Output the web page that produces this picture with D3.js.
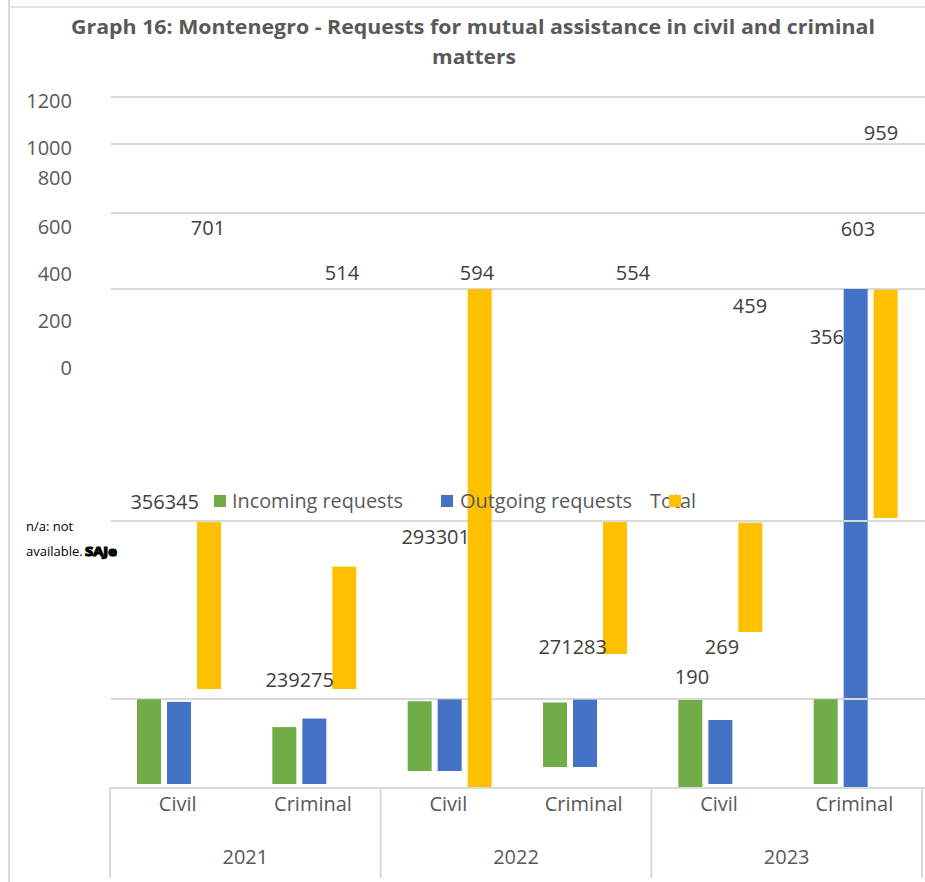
<!DOCTYPE html>
<html>
<head>
<meta charset="utf-8">
<script src="https://cdn.jsdelivr.net/npm/d3@7"></script>
<style>
  html, body { margin: 0; padding: 0; background: #fff; }
  svg { display: block; font-family: "Open Sans", "Noto Sans", sans-serif; }
</style>
</head>
<body>
<svg id="chart" width="925" height="882"></svg>
<script>
// ---------------- data ----------------
const categories = ["Civil", "Criminal", "Civil", "Criminal", "Civil", "Criminal"];
const years = ["2021", "2022", "2023"];
const seriesNames = ["Incoming requests", "Outgoing requests", "Total"];
const incoming = [356, 239, 293, 271, 190, 356];
const outgoing = [345, 275, 301, 283, 269, 603];
const total    = [701, 514, 594, 554, 459, 959];
const yTickLabels = ["1200", "1000", "800", "600", "400", "200", "0"];
const titleLines = ["Graph 16: Montenegro - Requests for mutual assistance in civil and criminal", "matters"];
const noteLines = ["n/a: not", "available.", "SAJe"];

// ---------------- styles / layout (reproducing the rendered, glitched picture) ----------------
const colors = ["#70AD47", "#4472C4", "#FFC000"];
const gridColor = "#d9d9d9";
const layout = {
  tickY: [101, 148, 178, 227, 274, 321, 368],
  gridY: [97, 144, 213, 289, 521, 699],
  // pixel baseline of each bar, per series, per category (the picture is tiled/shifted)
  baseline: [
    [784, 784, 771, 767, 787, 784],
    [784, 784, 771, 767, 784, 787],
    [689, 689, 787, 654, 632, 518]
  ],
  // bars whose tops were stretched to a fixed line in the picture
  stretchTop: { "0-4": 700, "1-5": 289, "2-2": 289 }
};

const series = [incoming, outgoing, total];

const svg = d3.select("#chart");
const W = 925, H = 882;

// scales
const x0 = d3.scaleBand().domain(d3.range(categories.length)).range([110, 922]).padding(0);
const x1 = d3.scaleBand().domain([0, 1, 2]).range([27, 111]).paddingInner(0.2).paddingOuter(0);
const h = d3.scaleLinear().domain([0, 1000]).range([0, 238]);

// chart area border
svg.append("line").attr("x1", 9).attr("x2", 9).attr("y1", 0).attr("y2", H)
  .attr("stroke", gridColor).attr("stroke-width", 2);
svg.append("line").attr("x1", 9).attr("x2", W).attr("y1", 7).attr("y2", 7)
  .attr("stroke", gridColor).attr("stroke-width", 1.5);

// title
svg.append("text").attr("x", 473).attr("y", 34).attr("text-anchor", "middle")
  .attr("font-size", 20).attr("font-weight", "bold").attr("fill", "#595959")
  .attr("textLength", 804).attr("lengthAdjust", "spacingAndGlyphs").text(titleLines[0]);
svg.append("text").attr("x", 474).attr("y", 64).attr("text-anchor", "middle")
  .attr("font-size", 20).attr("font-weight", "bold").attr("fill", "#595959")
  .attr("textLength", 84).attr("lengthAdjust", "spacingAndGlyphs").text(titleLines[1]);

// gridlines
svg.append("g").selectAll("line").data(layout.gridY).join("line")
  .attr("x1", 111).attr("x2", W).attr("y1", d => d).attr("y2", d => d)
  .attr("stroke", gridColor).attr("stroke-width", 2);

// y tick labels
svg.append("g").selectAll("text").data(yTickLabels).join("text")
  .attr("x", 72).attr("y", (d, i) => layout.tickY[i]).attr("dy", "0.35em")
  .attr("text-anchor", "end").attr("font-size", 20).attr("fill", "#595959")
  .text(d => d);

// bars
const barData = [];
series.forEach((vals, s) => vals.forEach((v, c) => {
  const base = layout.baseline[s][c];
  const key = s + "-" + c;
  const top = layout.stretchTop[key] !== undefined ? layout.stretchTop[key] : base - h(v);
  barData.push({ s, c, v, top, base });
}));
svg.append("g").selectAll("rect").data(barData).join("rect")
  .attr("x", d => x0(d.c) + x1(d.s))
  .attr("width", x1.bandwidth())
  .attr("y", d => d.top)
  .attr("height", d => d.base - d.top)
  .attr("fill", d => colors[d.s]);

// gridlines that were painted over the tall bar
svg.append("g").selectAll("line").data([521, 699]).join("line")
  .attr("x1", x0(5) + x1(1)).attr("x2", x0(5) + x1(1) + x1.bandwidth())
  .attr("y1", d => d).attr("y2", d => d)
  .attr("stroke", gridColor).attr("stroke-width", 2);

// category axis box
const axisY = 788;
svg.append("line").attr("x1", 110).attr("x2", W).attr("y1", axisY).attr("y2", axisY)
  .attr("stroke", gridColor).attr("stroke-width", 2);
const yearEdges = [0, 2, 4].map(i => x0(i)).concat([x0(5) + x0.bandwidth()]);
svg.append("g").selectAll("line").data(yearEdges).join("line")
  .attr("x1", d => d).attr("x2", d => d).attr("y1", axisY).attr("y2", 878)
  .attr("stroke", gridColor).attr("stroke-width", 2);
svg.append("g").selectAll("text").data(categories).join("text")
  .attr("x", (d, i) => x0(i) + x0.bandwidth() / 2).attr("y", 804).attr("dy", "0.35em")
  .attr("text-anchor", "middle").attr("font-size", 20).attr("fill", "#595959").text(d => d);
svg.append("g").selectAll("text").data(years).join("text")
  .attr("x", (d, i) => (x0(i * 2) + x0(i * 2 + 1) + x0.bandwidth()) / 2).attr("y", 857).attr("dy", "0.35em")
  .attr("text-anchor", "middle").attr("font-size", 20).attr("fill", "#595959").text(d => d);

// data labels (as they appear in the picture)
const labels = [
  { t: String(total[0]), x: 208, y: 228, a: "middle" },
  { t: String(total[1]), x: 342, y: 273, a: "middle" },
  { t: String(total[2]), x: 477, y: 273, a: "middle" },
  { t: String(total[3]), x: 633, y: 273, a: "middle" },
  { t: String(total[4]), x: 750, y: 306, a: "middle" },
  { t: String(outgoing[5]), x: 858, y: 229, a: "middle" },
  { t: String(total[5]), x: 881, y: 133, a: "middle" },
  { t: String(incoming[5]), x: 844, y: 337, a: "end" },
  { t: String(incoming[0]) + String(outgoing[0]), x: 199, y: 502, a: "end" },
  { t: String(incoming[2]) + String(outgoing[2]), x: 470, y: 537, a: "end" },
  { t: String(incoming[1]) + String(outgoing[1]), x: 334, y: 680, a: "end" },
  { t: String(incoming[3]) + String(outgoing[3]), x: 607, y: 647, a: "end" },
  { t: String(outgoing[4]), x: 722, y: 647, a: "middle" },
  { t: String(incoming[4]), x: 692, y: 677, a: "middle" }
];
svg.append("g").selectAll("text").data(labels).join("text")
  .attr("x", d => d.x).attr("y", d => d.y).attr("dy", "0.35em")
  .attr("text-anchor", d => d.a).attr("font-size", 20).attr("fill", "#404040")
  .text(d => d.t);

// legend
const legendText = [
  { x: 232, w: 171 }, { x: 460, w: 172 }, { x: 650, w: 46 }
];
const legendSq = [214, 441, 669];
const lg = svg.append("g");
lg.selectAll("text").data(seriesNames).join("text")
  .attr("x", (d, i) => legendText[i].x).attr("y", 508)
  .attr("font-size", 20).attr("fill", "#595959")
  .attr("textLength", (d, i) => legendText[i].w).attr("lengthAdjust", "spacingAndGlyphs")
  .text(d => d);
lg.selectAll("rect").data(seriesNames).join("rect")
  .attr("x", (d, i) => legendSq[i]).attr("y", 495).attr("width", 12).attr("height", 12)
  .attr("fill", (d, i) => colors[i]);

// footnote (the overprinted, blotted word rendered as one heavy text)
svg.append("text").attr("x", 26).attr("y", 531).attr("font-size", 13).attr("fill", "#000").text(noteLines[0]);
svg.append("text").attr("x", 26).attr("y", 556).attr("font-size", 13).attr("fill", "#000").text(noteLines[1]);
svg.append("text").attr("x", 85).attr("y", 556).attr("font-size", 13)
  .attr("font-weight", "bold").attr("fill", "#000").attr("stroke", "#000").attr("stroke-width", 1.2)
  .attr("textLength", 32).attr("lengthAdjust", "spacingAndGlyphs").text(noteLines[2]);
</script>
</body>
</html>
